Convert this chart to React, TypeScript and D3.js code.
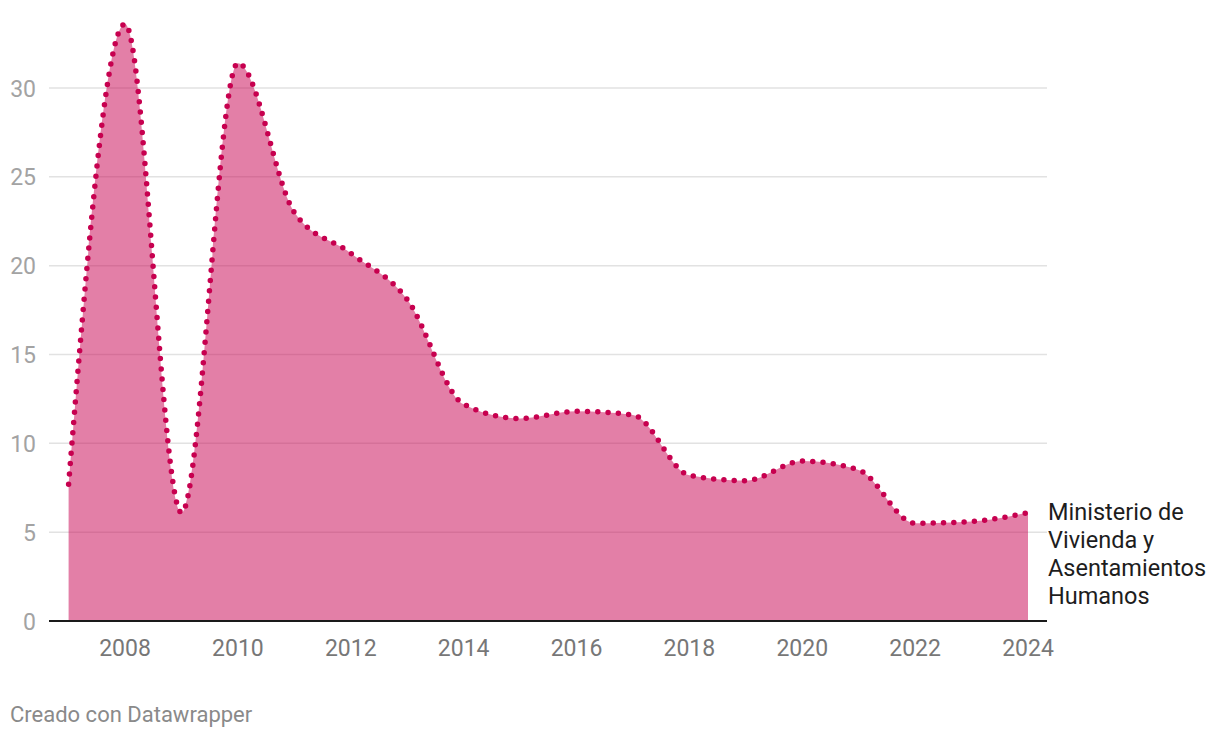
import React, { useEffect, useRef } from 'react';
import * as d3 from 'd3';

const years = [2007, 2008, 2009, 2010, 2011, 2012, 2013, 2014, 2015, 2016, 2017, 2018, 2019, 2020, 2021, 2022, 2023, 2024];
const values = [7.7, 33.6, 6.1, 31.4, 23.0, 20.7, 18.1, 12.2, 11.4, 11.8, 11.6, 8.2, 7.9, 9.0, 8.5, 5.5, 5.6, 6.1];
const yTicks = [0, 5, 10, 15, 20, 25, 30];
const xTicks = [2008, 2010, 2012, 2014, 2016, 2018, 2020, 2022, 2024];
const seriesLabel = ['Ministerio de', 'Vivienda y', 'Asentamientos', 'Humanos'];

const App = () => {
  const ref = useRef<SVGSVGElement>(null);

  useEffect(() => {
    const svg = d3.select(ref.current);
    svg.selectAll('*').remove();

    const x = d3.scaleLinear().domain([2007, 2024]).range([68.6, 1028]);
    const y = d3.scaleLinear().domain([0, 30]).range([621, 88]);
    const data = years.map((yr, i) => ({ yr, v: values[i] }));
    const font = 'Roboto, sans-serif';

    // grid lines
    svg.append('g')
      .selectAll('line')
      .data(yTicks.filter(t => t > 0))
      .enter()
      .append('line')
      .attr('x1', 49)
      .attr('x2', 1047)
      .attr('y1', d => y(d))
      .attr('y2', d => y(d))
      .attr('stroke', '#e2e2e2')
      .attr('stroke-width', 1.5);

    // y labels
    svg.append('g')
      .selectAll('text')
      .data(yTicks)
      .enter()
      .append('text')
      .attr('x', 36)
      .attr('y', d => y(d) + 8.5)
      .attr('text-anchor', 'end')
      .attr('font-family', font)
      .attr('font-size', 23)
      .attr('fill', '#a3a3a3')
      .text(d => d);

    const area = d3.area<{ yr: number; v: number }>()
      .x(d => x(d.yr))
      .y0(y(0))
      .y1(d => y(d.v))
      .curve(d3.curveMonotoneX);

    svg.append('path')
      .datum(data)
      .attr('d', area)
      .attr('fill', '#c7004f')
      .attr('fill-opacity', 0.5);

    const line = d3.line<{ yr: number; v: number }>()
      .x(d => x(d.yr))
      .y(d => y(d.v))
      .curve(d3.curveMonotoneX);

    svg.append('path')
      .datum(data)
      .attr('d', line)
      .attr('fill', 'none')
      .attr('stroke', '#c7004f')
      .attr('stroke-width', 5.5)
      .attr('stroke-linecap', 'round')
      .attr('stroke-dasharray', '0,10.3');

    // baseline
    svg.append('line')
      .attr('x1', 49)
      .attr('x2', 1047)
      .attr('y1', y(0))
      .attr('y2', y(0))
      .attr('stroke', '#1a1a1a')
      .attr('stroke-width', 2);

    // x labels
    svg.append('g')
      .selectAll('text')
      .data(xTicks)
      .enter()
      .append('text')
      .attr('x', d => x(d))
      .attr('y', 656)
      .attr('text-anchor', 'middle')
      .attr('font-family', font)
      .attr('font-size', 23)
      .attr('fill', '#777777')
      .text(d => d);

    // series label
    svg.append('g')
      .selectAll('text')
      .data(seriesLabel)
      .enter()
      .append('text')
      .attr('x', 1048)
      .attr('y', (d, i) => 520 + i * 28)
      .attr('font-family', font)
      .attr('font-size', 23.5)
      .attr('fill', '#1d1d1d')
      .text(d => d);

    svg.append('text')
      .attr('x', 10)
      .attr('y', 722)
      .attr('font-family', font)
      .attr('font-size', 22)
      .attr('fill', '#8a8a8a')
      .text('Creado con Datawrapper');
  }, []);

  return (
    <div style={{ position: 'absolute', left: 0, top: 0 }}>
      <svg ref={ref} width={1220} height={738} style={{ display: 'block', background: '#fff' }} />
    </div>
  );
};

export default App;
